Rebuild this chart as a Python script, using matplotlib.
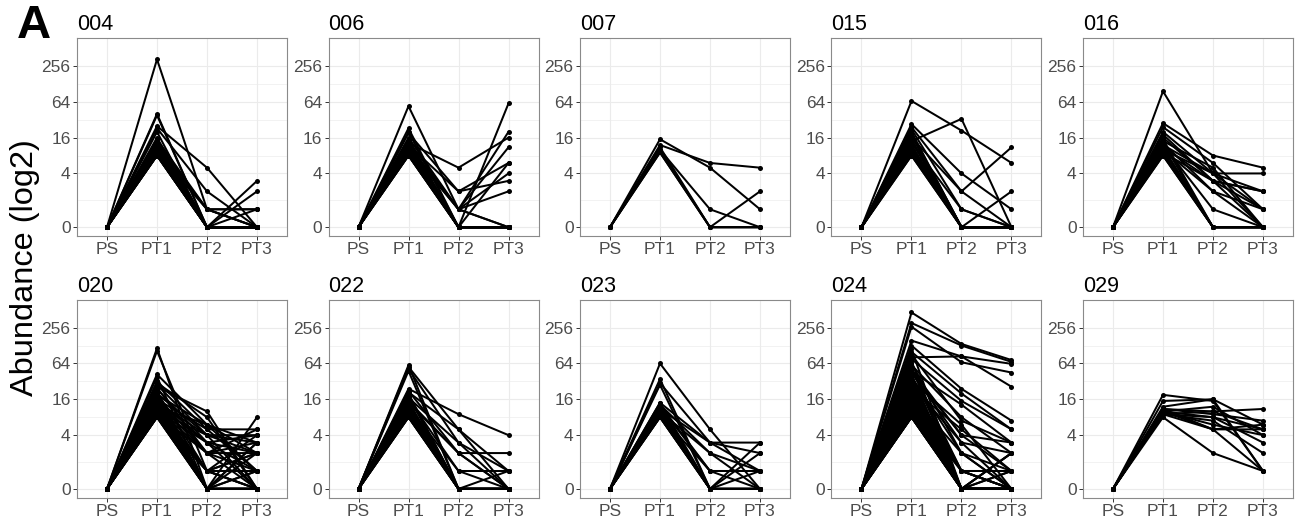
import numpy as np
import matplotlib
matplotlib.use("Agg")
import matplotlib.pyplot as plt

plt.rcParams['font.family'] = ['Liberation Sans', 'DejaVu Sans']

timepoints = ["PS", "PT1", "PT2", "PT3"]
y_ticks = [0, 4, 16, 64, 256]
y_tick_labels = ["0", "4", "16", "64", "256"]
y_minor = [2 ** 0.5, 8, 32, 128]

# clone counts at (PS, PT1, PT2, PT3)
s004 = [(0, 330, 1, 0), (0, 40, 0, 0), (0, 38, 0, 0), (0, 25, 5, 0), (0, 23, 2, 0),
        (0, 20, 0, 0), (0, 16, 0, 0), (0, 15, 1, 1), (0, 14, 0, 0), (0, 13, 0, 3),
        (0, 13, 1, 0), (0, 12, 0, 0), (0, 12, 0, 2), (0, 11, 0, 0), (0, 11, 1, 1),
        (0, 10, 0, 0), (0, 10, 0, 1), (0, 10, 0, 0), (0, 9, 0, 0), (0, 9, 1, 0),
        (0, 9, 0, 0), (0, 8, 0, 0), (0, 8, 0, 0), (0, 8, 0, 0), (0, 8, 0, 0),
        (0, 11, 0, 0), (0, 12, 0, 0), (0, 9, 0, 0)]
s006 = [(0, 54, 1, 11), (0, 23, 0, 60), (0, 19, 2, 6), (0, 13, 5, 16), (0, 16, 1, 20),
        (0, 14, 1, 4), (0, 12, 2, 3), (0, 12, 1, 0), (0, 15, 0, 6), (0, 11, 0, 0),
        (0, 10, 0, 0), (0, 10, 1, 2), (0, 9, 0, 0), (0, 9, 0, 0), (0, 8, 0, 0),
        (0, 8, 0, 0), (0, 13, 0, 0), (0, 11, 1, 0), (0, 12, 0, 0), (0, 10, 0, 0),
        (0, 9, 0, 0), (0, 8, 0, 0), (0, 14, 0, 0), (0, 20, 0, 0)]
s007 = [(0, 15, 5, 1), (0, 12, 6, 5), (0, 10, 1, 0), (0, 9, 0, 2), (0, 10, 0, 0),
        (0, 9, 0, 0), (0, 11, 0, 0)]
s015 = [(0, 66, 21, 6), (0, 14, 33, 0), (0, 27, 4, 1), (0, 24, 2, 11), (0, 22, 1, 0),
        (0, 20, 0, 0), (0, 18, 0, 2), (0, 16, 2, 0), (0, 15, 0, 0), (0, 14, 0, 0),
        (0, 13, 1, 0), (0, 12, 0, 0), (0, 12, 0, 0), (0, 11, 0, 0), (0, 10, 0, 0),
        (0, 10, 0, 0), (0, 9, 0, 0), (0, 9, 0, 0), (0, 8, 0, 0), (0, 8, 0, 0),
        (0, 19, 0, 0), (0, 17, 0, 0)]
s016 = [(0, 96, 4, 1), (0, 28, 8, 5), (0, 24, 6, 1), (0, 20, 4, 4), (0, 18, 3, 2),
        (0, 16, 3, 2), (0, 14, 5, 0), (0, 13, 2, 0), (0, 12, 4, 0), (0, 12, 1, 0),
        (0, 11, 0, 0), (0, 11, 3, 1), (0, 10, 0, 0), (0, 10, 2, 1), (0, 9, 0, 0),
        (0, 9, 0, 0), (0, 8, 0, 0), (0, 8, 0, 0), (0, 15, 0, 0), (0, 13, 0, 0),
        (0, 10, 4, 2), (0, 9, 3, 0)]
s020 = [(0, 115, 0, 0), (0, 104, 1, 0), (0, 42, 6, 2), (0, 38, 0, 0), (0, 32, 5, 1),
        (0, 30, 8, 0), (0, 28, 4, 3), (0, 26, 10, 0), (0, 25, 2, 5), (0, 24, 3, 4),
        (0, 22, 0, 8), (0, 21, 1, 2), (0, 20, 4, 4), (0, 19, 6, 1), (0, 18, 2, 3),
        (0, 17, 0, 0), (0, 16, 3, 0), (0, 16, 5, 5), (0, 15, 1, 2), (0, 15, 0, 1),
        (0, 14, 4, 2), (0, 14, 2, 0), (0, 13, 0, 3), (0, 13, 3, 1), (0, 12, 1, 4),
        (0, 12, 0, 0), (0, 12, 6, 3), (0, 11, 2, 1), (0, 11, 0, 2), (0, 11, 1, 0),
        (0, 10, 0, 0), (0, 10, 3, 2), (0, 10, 0, 1), (0, 10, 4, 0), (0, 9, 1, 1),
        (0, 9, 0, 0), (0, 9, 2, 2), (0, 9, 0, 0), (0, 8, 0, 0), (0, 8, 1, 0),
        (0, 8, 0, 0), (0, 8, 0, 3), (0, 14, 0, 0), (0, 18, 0, 0), (0, 20, 0, 0),
        (0, 12, 0, 0), (0, 10, 0, 0), (0, 9, 0, 0)]
s022 = [(0, 60, 0, 0), (0, 56, 5, 0), (0, 52, 3, 1), (0, 48, 0, 0), (0, 24, 9, 4),
        (0, 22, 2, 2), (0, 21, 5, 1), (0, 19, 0, 0), (0, 17, 3, 0), (0, 16, 1, 0),
        (0, 15, 0, 1), (0, 14, 2, 0), (0, 14, 0, 0), (0, 13, 0, 0), (0, 12, 1, 1),
        (0, 12, 0, 0), (0, 11, 0, 0), (0, 11, 0, 0), (0, 10, 0, 0), (0, 10, 0, 0),
        (0, 9, 0, 0), (0, 9, 0, 0), (0, 8, 0, 0), (0, 8, 0, 0), (0, 8, 0, 0),
        (0, 13, 0, 0), (0, 15, 2, 0), (0, 18, 0, 0), (0, 20, 0, 0), (0, 10, 0, 0)]
s023 = [(0, 64, 5, 0), (0, 35, 0, 0), (0, 30, 3, 2), (0, 28, 0, 0), (0, 14, 3, 3),
        (0, 13, 2, 1), (0, 13, 1, 1), (0, 12, 0, 2), (0, 12, 1, 0), (0, 11, 0, 3),
        (0, 11, 3, 1), (0, 10, 0, 0), (0, 10, 2, 0), (0, 10, 0, 0), (0, 9, 0, 0),
        (0, 9, 1, 1), (0, 9, 0, 0), (0, 8, 0, 0), (0, 8, 0, 0), (0, 8, 0, 1),
        (0, 12, 0, 0), (0, 14, 0, 0)]
s024 = [(0, 460, 136, 73), (0, 306, 128, 68), (0, 265, 67, 45), (0, 155, 84, 63),
        (0, 81, 84, 26), (0, 128, 24, 7), (0, 76, 15, 5), (0, 48, 13, 3), (0, 60, 8, 2),
        (0, 50, 4, 1), (0, 45, 3, 0), (0, 40, 1, 1), (0, 36, 0, 2), (0, 110, 0, 0),
        (0, 70, 0, 0), (0, 64, 2, 0), (0, 56, 0, 0), (0, 52, 1, 0), (0, 44, 4, 3),
        (0, 42, 0, 0), (0, 38, 2, 1), (0, 35, 0, 0), (0, 33, 6, 0), (0, 32, 0, 1),
        (0, 30, 0, 0), (0, 29, 3, 2), (0, 28, 0, 0), (0, 27, 1, 0), (0, 26, 0, 0),
        (0, 25, 0, 0), (0, 24, 5, 1), (0, 23, 0, 0), (0, 22, 0, 2), (0, 21, 0, 0),
        (0, 20, 1, 1), (0, 20, 0, 0), (0, 19, 0, 0), (0, 18, 2, 0), (0, 18, 0, 0),
        (0, 17, 0, 0), (0, 16, 0, 1), (0, 16, 0, 0), (0, 15, 0, 0), (0, 15, 1, 0),
        (0, 14, 0, 0), (0, 14, 0, 0), (0, 13, 0, 0), (0, 13, 0, 2), (0, 12, 0, 0),
        (0, 12, 0, 0), (0, 11, 0, 0), (0, 11, 1, 0), (0, 10, 0, 0), (0, 10, 0, 0),
        (0, 10, 0, 0), (0, 9, 0, 0), (0, 9, 0, 0), (0, 9, 0, 0), (0, 8, 0, 0),
        (0, 8, 0, 0), (0, 8, 0, 0), (0, 8, 0, 0), (0, 90, 7, 3), (0, 100, 20, 5)]
s029 = [(0, 19, 15, 1), (0, 15, 16, 1), (0, 12, 16, 6), (0, 11, 10, 11), (0, 11, 9, 7),
        (0, 10, 8, 5), (0, 10, 6, 4), (0, 10, 5, 6), (0, 9, 10, 5), (0, 9, 8, 3),
        (0, 9, 7, 2), (0, 8, 2, 1), (0, 9, 5, 5), (0, 10, 12, 4), (0, 11, 5, 1)]

subjects = ["004", "006", "007", "015", "016", "020", "022", "023", "024", "029"]
clones = [s004, s006, s007, s015, s016, s020, s022, s023, s024, s029]


def to_axis(v):
    # zero counts sit at 2^-1 on the log2 axis and are labelled "0"
    v = np.asarray(v, dtype=float)
    return np.where(v == 0, 0.5, v)


W, H = 1299, 518
fig = plt.figure(figsize=(W / 100, H / 100), dpi=100)

pw, ph = 210, 197.7
lefts = [77 + 251.5 * i for i in range(5)]
tops = [38.3, 300.0]
x = np.arange(len(timepoints))

for i, (name, rows) in enumerate(zip(subjects, clones)):
    left = lefts[i % 5]
    top = tops[i // 5]
    ax = fig.add_axes([left / W, 1 - (top + ph) / H, pw / W, ph / H])

    for row in rows:
        ax.plot(x, to_axis(row), color='black', lw=1.45, marker='o', ms=3.6,
                mew=0, zorder=3, solid_joinstyle='round')

    ax.set_yscale('log', base=2)
    ax.set_ylim(2 ** -1.49, 2 ** 9.54)
    ax.set_xlim(-0.6, 3.6)
    ax.set_yticks(to_axis(y_ticks))
    ax.set_yticklabels(y_tick_labels)
    ax.set_yticks(y_minor, minor=True)
    ax.yaxis.set_minor_formatter(plt.NullFormatter())
    ax.set_xticks(x)
    ax.set_xticklabels(timepoints)

    ax.grid(True, which='major', color='#EBEBEB', lw=0.8, zorder=0)
    ax.grid(True, which='minor', axis='y', color='#EBEBEB', lw=0.45, zorder=0)
    ax.set_axisbelow(True)
    ax.tick_params(axis='both', which='major', length=2.6, width=0.7,
                   color='#333333', labelsize=12.5, labelcolor='#4D4D4D', pad=2)
    ax.tick_params(axis='y', which='minor', length=0)
    for sp in ax.spines.values():
        sp.set_color('#8a8a8a')
        sp.set_linewidth(0.8)

    ax.set_title(name, loc='left', fontsize=15.5, pad=6)

fig.text(25 / W, 1 - 268 / H, "Abundance (log2)", rotation=90, fontsize=23.4,
         ha='center', va='center')
fig.text(34 / W, 1 - 26 / H, "A", fontsize=34, fontweight='bold',
         ha='center', va='center')

fig.savefig("out.png", dpi=100)
